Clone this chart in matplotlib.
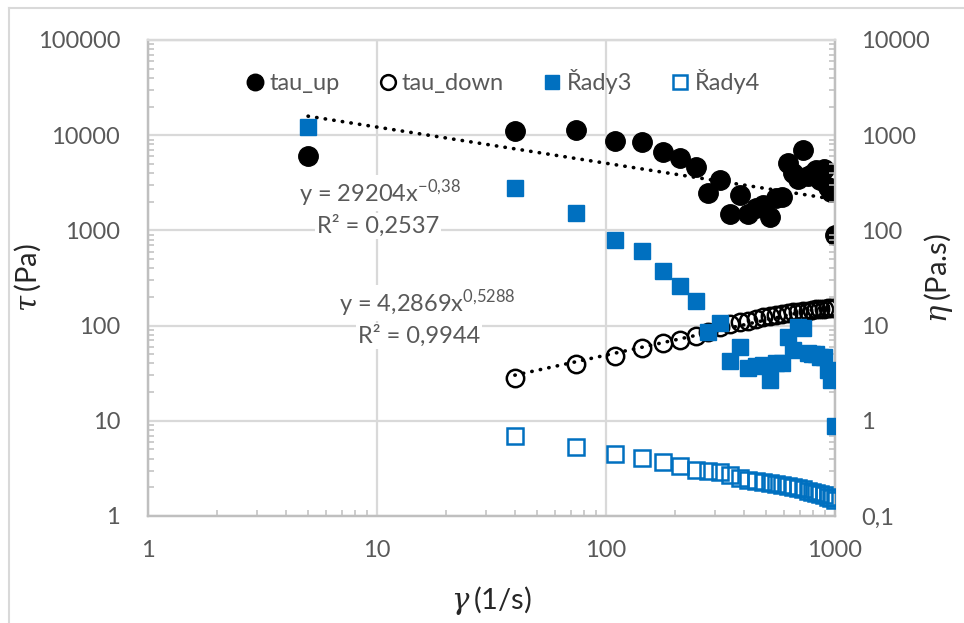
import numpy as np
import matplotlib
matplotlib.use("Agg")
import matplotlib.pyplot as plt
from matplotlib.lines import Line2D
from matplotlib.ticker import LogLocator, FixedLocator, FixedFormatter, NullFormatter

# ---------------- data ----------------
gamma = [5, 40, 74, 109, 143, 177, 211, 246, 280, 314, 348, 383, 417, 451, 485,
         520, 554, 588, 622, 657, 691, 725, 759, 794, 828, 862, 896, 931, 965, 999]

tau_up = [6100, 11000, 11300, 8700, 8500, 6600, 5700, 4600, 2500, 3400, 1480, 2350,
          1470, 1700, 1850, 1390, 2200, 2250, 5050, 4000, 3500, 7000, 3700, 3950,
          4300, 3350, 4450, 2880, 2550, 900]

tau_down = [np.nan, 28.2, 39.2, 48, 58.6, 66, 71, 77, 85, 96, 104, 108, 113, 118, 122,
            126, 129, 132, 135, 138, 140, 142, 144, 146, 148, 150, 151, 152, 153, 153]

rady3 = [1220, 281, 153, 79, 61, 37.5, 26, 18, 8.6, 10.6, 4.2, 6.0, 3.6, 3.8, 3.9,
         2.7, 4.0, 4.0, 7.6, 5.5, 9.7, 9.4, 5.2, 5.0, 5.0, 4.7, 4.7, 3.4, 2.7, 0.88]

rady4 = [np.nan, 0.70, 0.535, 0.445, 0.41, 0.366, 0.338, 0.304, 0.295, 0.288, 0.270,
         0.250, 0.240, 0.233, 0.225, 0.220, 0.215, 0.210, 0.205, 0.200, 0.196, 0.190,
         0.185, 0.180, 0.176, 0.172, 0.166, 0.160, 0.154, 0.147]

series_names = ["tau_up", "tau_down", "Řady3", "Řady4"]

# power-law trendlines shown on the chart: y = a * x^b
fit_up = (29204, -0.38)
fit_down = (4.2869, 0.5288)

left_ticks = [1, 10, 100, 1000, 10000, 100000]
left_labels = ["1", "10", "100", "1000", "10000", "100000"]
right_ticks = [0.1, 1, 10, 100, 1000, 10000]
right_labels = ["0,1", "1", "10", "100", "1000", "10000"]
x_ticks = [1, 10, 100, 1000]
x_labels = ["1", "10", "100", "1000"]

# ---------------- style ----------------
plt.rcParams['font.family'] = ['Lato', 'DejaVu Sans']
plt.rcParams['mathtext.fontset'] = 'dejavuserif'
TXT = "#595959"
GRID = "#d9d9d9"
AXC = "#bfbfbf"
BLUE = "#0070c0"
FS = 17

W, H = 964, 623
fig = plt.figure(figsize=(W / 100, H / 100), dpi=100)
fig.patch.set_facecolor("white")

x0, x1 = 148 / W, 835 / W
y0, y1 = 1 - 516 / H, 1 - 40 / H
ax = fig.add_axes([x0, y0, x1 - x0, y1 - y0])
ax2 = ax.twinx()

g = np.array(gamma, dtype=float)

ax.set_xscale("log")
ax.set_yscale("log")
ax2.set_yscale("log")
ax.set_xlim(1, 1000)
ax.set_ylim(1, 100000)
ax2.set_ylim(0.1, 10000)

ax.grid(True, which="major", color=GRID, lw=1.6, zorder=0)
ax.set_axisbelow(True)

# trendlines
xu = np.geomspace(5, 1000, 200)
ax.plot(xu, fit_up[0] * xu ** fit_up[1], color="black", lw=2.6,
        ls=(0, (0.1, 2.3)), dash_capstyle="round", zorder=3)
xd = np.geomspace(40, 1000, 200)
ax.plot(xd, fit_down[0] * xd ** fit_down[1], color="black", lw=2.6,
        ls=(0, (0.1, 2.3)), dash_capstyle="round", zorder=3)

# series
h1, = ax.plot(g, tau_up, ls="none", marker="o", ms=14, mfc="black", mec="black",
              zorder=4, label=series_names[0])
h2, = ax.plot(g, tau_down, ls="none", marker="o", ms=12.5, mfc="none", mec="black",
              mew=1.8, zorder=4, label=series_names[1])
h3, = ax2.plot(g, rady3, ls="none", marker="s", ms=12, mfc=BLUE, mec=BLUE,
               zorder=4, label=series_names[2])
h4, = ax2.plot(g, rady4, ls="none", marker="s", ms=11.5, mfc="none", mec=BLUE,
               mew=1.8, zorder=4, label=series_names[3])

for a in (ax, ax2):
    for s in a.spines.values():
        s.set_color(AXC)
        s.set_linewidth(1.6)
    a.spines["top"].set_color(GRID)

ax.xaxis.set_major_locator(FixedLocator(x_ticks))
ax.xaxis.set_major_formatter(FixedFormatter(x_labels))
ax.xaxis.set_minor_locator(LogLocator(base=10, subs=np.arange(2, 10)))
ax.xaxis.set_minor_formatter(NullFormatter())
ax.yaxis.set_major_locator(FixedLocator(left_ticks))
ax.yaxis.set_major_formatter(FixedFormatter(left_labels))
ax.yaxis.set_minor_locator(LogLocator(base=10, subs=np.arange(2, 10)))
ax.yaxis.set_minor_formatter(NullFormatter())
ax2.yaxis.set_major_locator(FixedLocator(right_ticks))
ax2.yaxis.set_major_formatter(FixedFormatter(right_labels))
ax2.yaxis.set_minor_locator(LogLocator(base=10, subs=np.arange(2, 10)))
ax2.yaxis.set_minor_formatter(NullFormatter())

ax.tick_params(axis="both", which="major", length=0, labelsize=FS, labelcolor=TXT)
ax.tick_params(axis="x", which="major", pad=17)
ax.tick_params(axis="y", which="major", pad=20)
ax.tick_params(axis="both", which="minor", direction="in", length=4.5, width=1.1,
               color=AXC)
ax.tick_params(axis="y", which="both", right=False)
ax.tick_params(axis="x", which="both", top=False)
ax2.tick_params(axis="y", which="major", length=0, labelsize=FS, labelcolor=TXT, pad=19)
ax2.tick_params(axis="y", which="minor", direction="in", length=4.5, width=1.1, color=AXC)

# axis labels
ax.set_xlabel(r"$\gamma\,$(1/s)", fontsize=21, color="#262626", labelpad=17)
ax.set_ylabel(r"$\tau\,$(Pa)", fontsize=21, color="#262626", labelpad=-4)
ax2.set_ylabel(r"$\eta\,$(Pa.s)", fontsize=21, color="#262626", labelpad=-6)

# trendline equations
bbox = dict(facecolor="white", edgecolor="none", pad=1.5)
def ypix(py):
    return 10 ** ((516 - py) / 95.2)
def xpix(px):
    return 10 ** ((px - 148) / 229)

ax.text(xpix(380), ypix(193), r"y = 29204x$^{\mathregular{-0{,}38}}$",
        ha="center", va="center", fontsize=FS, color=TXT, bbox=bbox, zorder=5)
ax.text(xpix(378), ypix(226), "R² = 0,2537",
        ha="center", va="center", fontsize=FS, color=TXT, bbox=bbox, zorder=5)
ax.text(xpix(427), ypix(303), r"y = 4,2869x$^{\mathregular{0{,}5288}}$",
        ha="center", va="center", fontsize=FS, color=TXT, bbox=bbox, zorder=5)
ax.text(xpix(419), ypix(336), "R² = 0,9944",
        ha="center", va="center", fontsize=FS, color=TXT, bbox=bbox, zorder=5)

# legend
leg = ax2.legend(handles=[h1, h2, h3, h4], loc="upper center",
                 bbox_to_anchor=(0.518, 1 - 20 / 476), ncol=4, frameon=False,
                 fontsize=FS, handlelength=0.6, handletextpad=0.3,
                 columnspacing=1.75, markerscale=0.85, borderaxespad=0)
for t in leg.get_texts():
    t.set_color(TXT)

# outer chart border (partial, as in reference)
fig.add_artist(Line2D([9 / W, 9 / W], [0, 1 - 8 / H], color=GRID, lw=1.5,
                      transform=fig.transFigure))
fig.add_artist(Line2D([9 / W, 1], [1 - 8 / H, 1 - 8 / H], color=GRID, lw=1.5,
                      transform=fig.transFigure))

fig.savefig("out.png", dpi=100, facecolor="white")
